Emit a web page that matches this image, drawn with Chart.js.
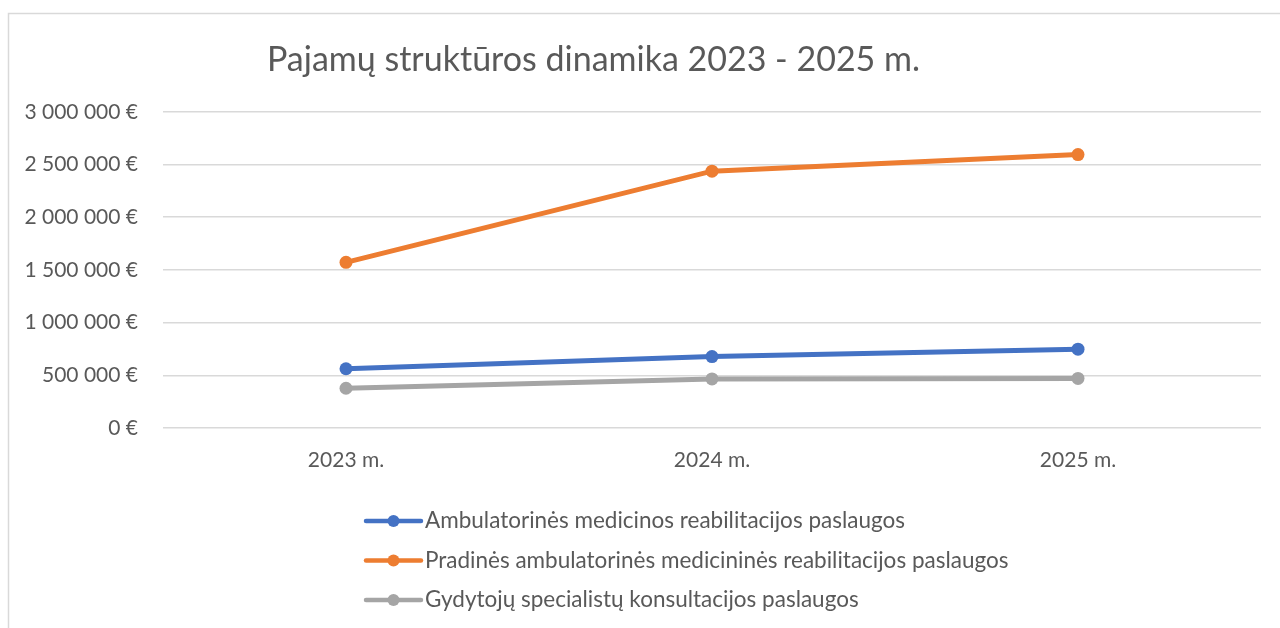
<!DOCTYPE html>
<html>
<head>
<meta charset="utf-8">
<script src="https://cdn.jsdelivr.net/npm/chart.js@4.4.1/dist/chart.umd.min.js"></script>
<style>
  html, body { margin: 0; padding: 0; background: #fff; }
  #wrap { width: 1280px; height: 628px; position: relative; }
</style>
</head>
<body>
<div id="wrap"><canvas id="incomeChart"></canvas></div>
<script>
// data
const years = ['2023 m.', '2024 m.', '2025 m.'];
const ambulatorine = [562000, 678000, 748000];
const pradine = [1572000, 2437000, 2594000];
const gydytoju = [377000, 466000, 470000];
const seriesNames = [
  'Ambulatorinės medicinos reabilitacijos paslaugos',
  'Pradinės ambulatorinės medicininės reabilitacijos paslaugos',
  'Gydytojų specialistų konsultacijos paslaugos'
];
const chartTitle = 'Pajamų struktūros dinamika 2023 - 2025 m.';

const FONT = 'Lato, "Open Sans", sans-serif';
const TEXT = '#595959';

// formats 1500000 -> "1 500 000 €"
function euro(v) {
  return String(Math.round(v)).replace(/\B(?=(\d{3})+(?!\d))/g, ' ') + ' €';
}

// border round the chart + shift title + vertical legend
const extras = {
  id: 'extras',
  afterLayout(chart) {
    const t = chart.titleBlock;
    if (t) { t.left -= 37; t.right -= 37; }
  },
  beforeDraw(chart) {
    const ctx = chart.ctx;
    ctx.save();
    ctx.strokeStyle = '#d9d9d9';
    ctx.lineWidth = 1.5;
    ctx.strokeRect(8.5, 13.5, 2000, 2000);
    ctx.restore();
  },
  afterDraw(chart) {
    const ctx = chart.ctx;
    const area = chart.chartArea;
    const x0 = area.left + 203;
    let y = area.bottom + 93;
    ctx.save();
    chart.data.datasets.forEach(ds => {
      ctx.strokeStyle = ds.borderColor;
      ctx.lineWidth = 4.5;
      ctx.lineCap = 'round';
      ctx.beginPath();
      ctx.moveTo(x0, y);
      ctx.lineTo(x0 + 55, y);
      ctx.stroke();
      ctx.fillStyle = ds.backgroundColor;
      ctx.beginPath();
      ctx.arc(x0 + 27.5, y, 6, 0, Math.PI * 2);
      ctx.fill();
      ctx.fillStyle = TEXT;
      ctx.font = '22.5px ' + FONT;
      ctx.textBaseline = 'middle';
      ctx.textAlign = 'left';
      ctx.fillText(ds.label, x0 + 59, y);
      y += 39.5;
    });
    ctx.restore();
  }
};

function makeSet(label, data, color) {
  return {
    label: label,
    data: data,
    borderColor: color,
    backgroundColor: color,
    borderWidth: 5,
    pointRadius: 6.5,
    pointHoverRadius: 6.5,
    pointBorderWidth: 0,
    tension: 0
  };
}

const ctx = document.getElementById('incomeChart').getContext('2d');
new Chart(ctx, {
  type: 'line',
  data: {
    labels: years,
    datasets: [
      makeSet(seriesNames[0], ambulatorine, '#4472C4'),
      makeSet(seriesNames[1], pradine, '#ED7D31'),
      makeSet(seriesNames[2], gydytoju, '#A5A5A5')
    ]
  },
  options: {
    responsive: true,
    maintainAspectRatio: false,
    animation: false,
    layout: { padding: { left: 0, right: 19, top: 0, bottom: 130 } },
    plugins: {
      legend: { display: false },
      tooltip: { enabled: false },
      title: {
        display: true,
        text: chartTitle,
        color: TEXT,
        font: { family: FONT, size: 34, weight: 'normal', lineHeight: 1.2 },
        padding: { top: 40, bottom: 31 }
      }
    },
    scales: {
      x: {
        offset: true,
        grid: { display: false, drawTicks: false },
        border: { display: false },
        ticks: { color: TEXT, font: { family: FONT, size: 21 }, padding: 20 },
        afterFit(scale) { scale.height = 70; }
      },
      y: {
        min: 0,
        max: 3000000,
        grid: { color: '#d9d9d9', lineWidth: 1.5, drawTicks: false },
        border: { display: false },
        ticks: {
          stepSize: 500000,
          color: TEXT,
          font: { family: FONT, size: 21 },
          padding: 25,
          callback: v => euro(v)
        },
        afterFit(scale) { scale.width = 163; }
      }
    }
  },
  plugins: [extras]
});
</script>
</body>
</html>
